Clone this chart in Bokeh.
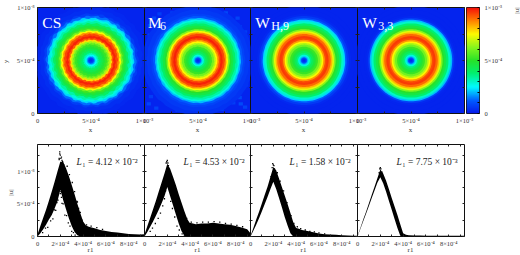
import numpy as np
from bokeh.plotting import figure
from bokeh.layouts import row, column
from bokeh.models import LinearAxis, FixedTicker, Range1d, LinearColorMapper, ColumnDataSource
from bokeh.transform import linear_cmap
from bokeh.core.properties import value
from bokeh.embed import file_html
from bokeh.resources import INLINE

FONT = "Liberation Serif"

# radial rings of the |u| maps: outer radius of each ring (1e-4), colour value (1e-3)
ring_r = [5.2,4.8,4.4,4.2,4.0,3.85,3.7,3.5,3.3,3.1,2.95,2.8,2.65,2.5,2.3,2.1,1.95,1.8,1.65,1.5,1.3,1.1,.9,.7,.55,.4,.3,.2,.1]
cs_v  = [.03,.04,.07,.14,.22,.28,.33,.40,.46,.52,.60,.74,.86,.94,.98,.92,.78,.66,.58,.52,.47,.43,.38,.32,.25,.18,.10,.06,.03]
m6_v  = [.05,.06,.08,.12,.20,.28,.33,.39,.45,.50,.62,.74,.86,.94,.98,.93,.85,.75,.67,.60,.52,.47,.42,.36,.28,.20,.12,.06,.03]
h9_v  = [.02,.02,.03,.06,.12,.22,.30,.38,.45,.50,.62,.72,.82,.90,.95,.93,.85,.75,.67,.60,.52,.47,.42,.36,.28,.20,.12,.06,.03]
w3_v  = [.02,.02,.02,.03,.08,.20,.30,.38,.45,.50,.62,.72,.82,.90,.95,.93,.85,.75,.67,.60,.52,.47,.42,.36,.28,.20,.12,.06,.03]
# ragged edge of each ring by direction (1e-4)
cs_wob = [.12,-.08,.15,-.12,.05,.18,-.1,.02,-.15,.14,.06,-.05,.16,-.14,.08,-.02,.13,-.16,.1,.04,-.12,.17,-.06,.09,-.1,.15,-.03,-.13,.11,.02,
          -.09,.16,-.15,.07,.12,-.07,-.02,.14,-.11,.18,-.04,.06,-.16,.1,.03,-.08,.15,-.12,.05,-.14,.13,.01,-.1,.16,-.05,.09,-.13,.07,.12,-.06]
m6_wob = [.05,-.03,.06,-.05,.02,.07,-.04,.01,-.06,.05,.02,-.02,.06,-.05,.03,-.01,.05,-.06,.04,.02,-.05,.07,-.02,.03,-.04,.06,-.01,-.05,.04,.01,
          -.03,.06,-.06,.03,.05,-.03,-.01,.05,-.04,.07,-.02,.02,-.06,.04,.01,-.03,.06,-.05,.02,-.05,.05,0,-.04,.06,-.02,.03,-.05,.03,.05,-.02]
h9_wob = [.015,-.01,.02,-.015,.005,.02,-.01,.005,-.02,.015,.005,-.005]*5
w3_wob = [0.0]*60
# mottled background of M6: position (1e-4) and level (1e-3)
m6_sx = [.5,1.4,.9,2.6,3.6,4.9,6.4,7.6,8.7,9.4,8.8,9.3,8.4,9.5,8.9,9.4,8.3,7.2,5.6,4.1,2.7,1.1,.6,.4,1.2,.3,.9,.5,1.6,2.2,7.9,8.9,3.1,6.1,9.0,.4,5.0,7.0]
m6_sy = [8.3,9.4,9.0,9.5,9.0,9.6,9.2,9.5,9.0,7.7,6.4,5.2,3.9,2.7,1.5,.6,1.0,.4,.9,.5,.8,.5,1.6,3.1,4.2,5.6,6.8,7.4,2.2,1.4,8.7,8.2,.3,9.7,.9,.9,.2,8.9]
m6_sv = [.08,.07,.09,.07,.08,.09,.07,.09,.08,.07,.09,.07,.08,.07,.09,.08,.07,.09,.08,.07,.09,.08,.07,.08,.09,.07,.08,.09,.07,.08,.09,.07,.08,.07,.09,.08,.07,.09]

titles = ["CS", "M", "W", "W"]
title_x = [4.5e-5, 3.2e-5, 4.5e-5, 4.5e-5]
title_subs = ["", "6", "H,9", "3,3"]
sub_x = [0, 1.45e-4, 1.95e-4, 1.95e-4]
l1_mant = ["4.12", "4.53", "1.58", "7.75"]
l1_exp = ["⁻²", "⁻²", "⁻²", "⁻³"]

# scatter envelopes of |u| against r1: r1 (1e-4), upper and lower (1e-3)
cs_r = [0,.25,.5,.75,1,1.25,1.5,1.75,2,2.25,2.5,2.75,3,3.25,3.5,3.75,4,4.25,4.5,5,5.5,6,6.5,7,7.5,8,8.5,9,9.38]
cs_up = [.03,.16,.29,.41,.55,.69,.84,1.0,1.15,1.15,1.05,.93,.79,.65,.5,.36,.23,.17,.15,.125,.1,.085,.07,.06,.05,.04,.035,.03,.035]
cs_lo = [0,.05,.11,.18,.26,.33,.43,.54,.72,.56,.42,.28,.16,.07,.02,0,0,0,0,0,0,0,0,0,0,0,0,0,0]
m6_r = [0,.25,.5,.75,1,1.25,1.5,1.75,2,2.25,2.5,2.75,3,3.25,3.5,3.75,3.95,4.25,4.5,5,5.5,6,6.5,7,7.5,8,8.5,9,9.38]
m6_up = [.03,.16,.29,.42,.55,.69,.83,.97,1.12,1.04,.92,.79,.65,.52,.39,.27,.21,.2,.19,.2,.2,.21,.2,.19,.18,.16,.14,.11,.03]
m6_lo = [0,.07,.15,.23,.32,.41,.51,.62,.76,.62,.48,.34,.2,.08,.01,0,0,0,0,0,0,0,0,0,0,0,0,0,0]
h9_r = [0,.25,.5,.75,1,1.25,1.5,1.75,2,2.25,2.5,2.75,3,3.25,3.5,3.75,4,4.25,4.5,5,5.5,6,6.5,7,7.5,8,8.5,9,9.38]
h9_up = [.01,.13,.26,.38,.51,.64,.77,.92,1.07,1.02,.89,.76,.63,.5,.36,.22,.13,.12,.1,.085,.065,.045,.035,.03,.025,.02,.015,.012,.01]
h9_lo = [0,.09,.18,.28,.39,.5,.61,.73,.84,.73,.59,.45,.3,.17,.05,0,0,0,0,0,0,0,0,0,0,0,0,0,0]
w3_r = [0,.25,.5,.75,1,1.25,1.5,1.75,2,2.25,2.5,2.75,3,3.25,3.5,3.75,4,4.25,4.5,5,5.5,6,6.5,7,7.5,8,8.5,9,9.38]
w3_up = [.008,.13,.26,.38,.51,.64,.77,.90,1.03,.97,.86,.73,.59,.46,.33,.19,.05,.025,.02,.015,.015,.012,.012,.012,.012,.012,.012,.012,.012]
w3_lo = [0,.115,.235,.35,.47,.59,.71,.83,.91,.82,.69,.55,.41,.27,.13,.01,0,0,0,0,0,0,0,0,0,0,0,0,0]
# stray points just outside the dense band
cs_ox = [1.95,2.0,2.05,2.1,2.15,1.9,2.2,2.3,2.35,1.85,1.8,1.7,1.6,1.5,1.35,1.15,.9,.7,.45,2.05,2.15,2.25,2.4,2.55,2.7,2.85,3.0,3.15,3.3,3.5,3.6,3.75,3.9,2.0,2.1,1.9,1.95,4.3,4.7,5.2,5.7,2.6,2.8,3.05,3.25,3.45]
cs_oy = [1.3,1.25,1.2,1.22,1.17,1.18,1.15,1.1,1.05,.7,.56,.52,.4,.41,.27,.24,.14,.13,.06,.69,.51,.5,.33,.32,.21,.16,.08,.06,.02,.53,.43,.37,.25,.66,.6,1.2,1.27,.18,.16,.135,.11,1.08,.95,.83,.69,.54]
m6_ox = [1.95,2.0,2.05,1.9,2.1,2.2,1.85,1.75,1.6,1.4,1.2,.95,.7,.5,2.3,2.45,2.65,2.85,3.05,3.3,3.5,3.7,4.1,4.6,5.1,5.6,6.1,6.6,7.1,7.6,8.1,8.6]
m6_oy = [1.15,1.17,1.13,1.13,1.09,.7,.7,.58,.47,.36,.28,.2,.13,.08,.54,.43,.3,.16,.1,.04,.02,.28,.22,.21,.22,.22,.23,.22,.2,.19,.17,.15]
h9_ox = [1.95,2.0,2.05,1.9,2.1,2.2,1.8,2.35,2.6,2.9,3.2,3.55,3.8,4.1,4.4,4.8,5.2,5.6,6.0,6.5]
h9_oy = [1.12,1.1,1.09,1.06,1.04,.8,.92,.98,.85,.7,.52,.32,.2,.15,.12,.1,.08,.07,.055,.04]
w3_ox = [1.95,2.0,2.05,2.15,1.9]
w3_oy = [1.04,1.06,1.04,.99,.98]

top_ticks = [0, 5e-4, 1e-3]
top_tick_labels = ["0", "5×10⁻⁴", "1×10⁻³"]
top_minor = [2.5e-4, 7.5e-4]
bot_x_ticks = [0, 2e-4, 4e-4, 6e-4, 8e-4]
bot_x_labels = ["0", "2×10⁻⁴", "4×10⁻⁴", "6×10⁻⁴", "8×10⁻⁴"]
bot_x_minor = [1e-4, 3e-4, 5e-4, 7e-4, 9e-4]
bot_y_ticks = [0, 5e-4, 1e-3]
bot_y_labels = ["0", "5×10⁻⁴", "1×10⁻³"]
bot_y_minor = [2.5e-4, 7.5e-4, 1.25e-3]

# axis titles
axis_titles = ["x", "x", "x", "x", "r1", "r1", "r1", "r1", "y", "|u|", "|u|"]
axis_title_x = [90, 197, 303, 410, 90, 197, 303, 410, 5, 10, 516]
axis_title_y = [129, 129, 129, 129, 249, 249, 249, 249, 61, 192, 10]
axis_title_angle = [0, 0, 0, 0, 0, 0, 0, 0, np.pi / 2, np.pi / 2, np.pi / 2]

# jet-like colour scale as shown on the colour bar
stops = [0, .12, .25, .38, .5, .62, .75, .88, 1]
stop_rgb = [(5,25,235),(0,90,255),(0,250,255),(0,240,110),(40,225,40),(130,245,30),(255,250,0),(255,125,0),(245,15,10)]
PAL = []
for t in np.linspace(0, 1, 256):
    c = [int(round(np.interp(t, stops, [s[k] for s in stop_rgb]))) for k in range(3)]
    PAL.append("#%02x%02x%02x" % tuple(c))

SIDE = 20
TICK_SIZE = "6.5px"


def dress(p, xt, xl, xm, yt, yl, ym, show_y):
    tx = FixedTicker(ticks=xt, minor_ticks=xm)
    ty = FixedTicker(ticks=yt, minor_ticks=ym)
    blank_x = {v: "" for v in xt}
    blank_y = {v: "" for v in yt}
    p.xaxis.ticker = tx
    p.yaxis.ticker = ty
    p.xaxis.major_label_overrides = dict(zip(xt, xl))
    p.yaxis.major_label_overrides = dict(zip(yt, yl)) if show_y else blank_y
    p.add_layout(LinearAxis(ticker=tx, major_label_overrides=blank_x, major_label_standoff=0), "above")
    p.add_layout(LinearAxis(ticker=ty, major_label_overrides=blank_y, major_label_standoff=0), "right")
    for ax in p.axis:
        ax.major_tick_in = 2
        ax.major_tick_out = 0
        ax.minor_tick_in = 2
        ax.minor_tick_out = 0
        ax.major_tick_line_color = "#222222"
        ax.minor_tick_line_color = "#222222"
        ax.axis_line_color = None
        ax.major_label_text_font = FONT
        ax.major_label_text_font_size = TICK_SIZE
        ax.major_label_text_color = "#333333"
    p.below[0].major_label_standoff = 3
    p.left[0].major_label_standoff = 3
    p.grid.visible = False
    p.outline_line_color = "#111111"
    p.outline_line_width = 1
    p.border_fill_color = None


def margins(i):
    return (0, 0, 0, [0, -40, -41, -40][i])


def top_panel(i, ring_v, wob, sx=None, sy=None, sv=None):
    left = 37 if i == 0 else SIDE
    p = figure(width=left + 107 + SIDE, height=7 + 106 + 24, output_backend="svg", toolbar_location=None,
               x_range=Range1d(0, 1e-3), y_range=Range1d(0, 1e-3),
               min_border_left=left, min_border_right=SIDE, min_border_top=7, min_border_bottom=24,
               background_fill_color=PAL[5], margin=margins(i))
    if sx:
        p.rect(np.array(sx) * 1e-4, np.array(sy) * 1e-4, width=4e-5, height=3e-5,
               fill_color=[PAL[int(v * 255)] for v in sv], line_color=None)
    # finer raggedness: each direction is followed by a second, opposed sample
    fine = np.ravel(np.column_stack([wob, -np.roll(wob, 17)])) * 0.45
    ang = np.linspace(0, 2 * np.pi, len(fine), endpoint=False)
    xs, ys = [], []
    for k, r in enumerate(ring_r):
        scale = 1.0 if r >= 3.5 else 0.6
        w = np.roll(fine, k * 23) * scale
        rad = (r + w) * 1e-4
        xs.append(5e-4 + rad * np.cos(ang))
        ys.append(5e-4 + rad * np.sin(ang))
    src = ColumnDataSource(dict(xs=xs, ys=ys, v=[a * 1e-3 for a in ring_v]))
    p.patches("xs", "ys", source=src, fill_color=linear_cmap("v", PAL, 0, 1e-3), line_color=None)
    dress(p, top_ticks, top_tick_labels, top_minor, top_ticks, top_tick_labels, top_minor, i == 0)
    p.text([title_x[i]], [8.63e-4], text=[titles[i]], text_font=value(FONT), text_font_size="15.5px", text_color="white", text_baseline="alphabetic")
    if title_subs[i]:
        p.text([sub_x[i]], [8.24e-4], text=[title_subs[i]], text_font=value(FONT), text_font_size="12px", text_color="white", text_baseline="alphabetic")
    return p


def bot_panel(i, r, up, lo, ox, oy):
    left = 37 if i == 0 else SIDE
    p = figure(width=left + 107 + SIDE, height=7 + 92 + 17, output_backend="svg", toolbar_location=None,
               x_range=Range1d(0, 9.38e-4), y_range=Range1d(0, 1.414e-3),
               min_border_left=left, min_border_right=SIDE, min_border_top=7, min_border_bottom=17,
               background_fill_color="white", margin=margins(i))
    rr = np.array(r) * 1e-4
    p.varea(rr, np.array(lo) * 1e-3, np.array(up) * 1e-3, fill_color="black")
    p.scatter(np.array(ox) * 1e-4, np.array(oy) * 1e-3, size=1.3, marker="square", fill_color="black", line_color=None)
    dress(p, bot_x_ticks, bot_x_labels, bot_x_minor, bot_y_ticks, bot_y_labels, bot_y_minor, i == 0)
    p.text([3.42e-4], [1.145e-3], text=["L"], text_font=value(FONT), text_font_size="9.5px", text_font_style="italic", text_baseline="alphabetic", text_color="#222222")
    p.text([3.92e-4], [1.145e-3], text=["₁ = " + l1_mant[i] + " × 10" + l1_exp[i]], text_font=value(FONT), text_font_size="9.5px", text_baseline="alphabetic", text_color="#222222")
    return p


tops = [top_panel(0, cs_v, np.array(cs_wob)),
        top_panel(1, m6_v, np.array(m6_wob), m6_sx, m6_sy, m6_sv),
        top_panel(2, h9_v, np.array(h9_wob)),
        top_panel(3, w3_v, np.array(w3_wob))]

# colour bar
cb = figure(width=13 + 41, height=7 + 106 + 24, output_backend="svg", toolbar_location=None,
            x_range=Range1d(0, 1), y_range=Range1d(0, 1e-3),
            min_border_left=0, min_border_right=41, min_border_top=7, min_border_bottom=24,
            margin=(0, 0, 0, -18), x_axis_location=None, y_axis_location="right")
cb.image(image=[np.linspace(0, 1e-3, 256).reshape(256, 1)], x=0, y=0, dw=1, dh=1e-3,
         color_mapper=LinearColorMapper(palette=PAL, low=0, high=1e-3))
ya = cb.yaxis[0]
ya.ticker = FixedTicker(ticks=top_ticks, minor_ticks=[1e-4, 2e-4, 3e-4, 4e-4, 6e-4, 7e-4, 8e-4, 9e-4])
ya.major_label_overrides = dict(zip(top_ticks, top_tick_labels))
ya.major_tick_in = 2
ya.major_tick_out = 0
ya.minor_tick_in = 2
ya.minor_tick_out = 0
ya.axis_line_color = None
ya.major_label_text_font = FONT
ya.major_label_text_font_size = TICK_SIZE
ya.major_label_text_color = "#333333"
ya.major_label_standoff = 5
cb.grid.visible = False
cb.outline_line_color = "#111111"
cb.border_fill_color = None

bots = [bot_panel(0, cs_r, cs_up, cs_lo, cs_ox, cs_oy),
        bot_panel(1, m6_r, m6_up, m6_lo, m6_ox, m6_oy),
        bot_panel(2, h9_r, h9_up, h9_lo, h9_ox, h9_oy),
        bot_panel(3, w3_r, w3_up, w3_lo, w3_ox, w3_oy)]

# transparent sheet over the whole page that carries the axis titles
sheet = figure(width=520, height=253, output_backend="svg", toolbar_location=None,
               x_range=Range1d(0, 520), y_range=Range1d(253, 0),
               min_border_left=0, min_border_right=0, min_border_top=0, min_border_bottom=0,
               x_axis_location=None, y_axis_location=None,
               background_fill_color=None, border_fill_color=None, outline_line_color=None,
               margin=(-253, 0, 0, 0))
sheet.grid.visible = False
sheet.text(axis_title_x, axis_title_y, text=axis_titles, angle=axis_title_angle,
           text_font=value(FONT), text_font_size="7px", text_color="#333333",
           text_align="center", text_baseline="middle")

page = column(row(*tops, cb, spacing=0), row(*bots, spacing=0), sheet, spacing=0)
open("out.html", "w").write(file_html(page, INLINE))
